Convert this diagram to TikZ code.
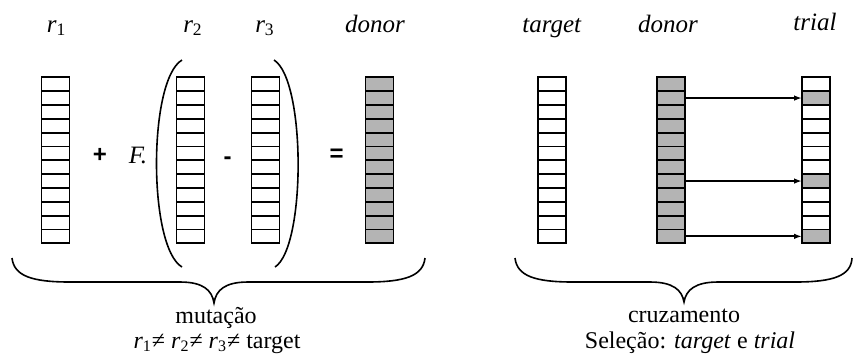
\documentclass[tikz,border=0pt]{standalone}
\usepackage{fontspec}
\setmainfont{Liberation Serif}
\setsansfont{Liberation Sans}
\usetikzlibrary{arrows.meta, positioning}
\definecolor{cellgray}{RGB}{180, 180, 180}
\tikzset{
  gene/.style={draw, line width=0.9pt, fill=#1, minimum width=14pt, minimum height=6.92pt, inner sep=0pt, outer sep=0pt},
  gene/.default=white,
  veclabel/.style={font=\rmfamily\itshape\fontsize{12.5}{15}\selectfont, anchor=base},
  oplabel/.style={font=\sffamily\bfseries\fontsize{12}{14}\selectfont},
  steplabel/.style={font=\rmfamily\fontsize{12}{14}\selectfont, anchor=base},
  crossarrow/.style={-{Latex[length=4pt, width=2.8pt]}, line width=0.9pt},
  bracket/.style={line width=0.8pt},
}

\begin{document}
\begin{tikzpicture}[x=0.5pt, y=-0.5pt]
\useasboundingbox (0,0) rectangle (854,361);

% vectors: 12 genes each
\foreach \vec/\xc/\col in {rA/55.5/white, rB/190.5/white, rC/265.5/white, donA/379.5/cellgray, targ/551.7/white, donB/670.7/cellgray}
  \foreach \i in {1,...,12}
    \node[gene=\col] (\vec-\i) at (\xc, {77.3+13.83*(\i-0.5)}) {};
\foreach \i/\col in {1/white, 2/cellgray, 3/white, 4/white, 5/white, 6/white, 7/white, 8/cellgray, 9/white, 10/white, 11/white, 12/cellgray}
  \node[gene=\col] (trial-\i) at (816, {77.3+13.83*(\i-0.5)}) {};

% labels on top
\node[veclabel] (labA) at (56.7,32) {r\textsubscript{\upshape 1}};
\node[veclabel] (labB) at (193,32) {r\textsubscript{\upshape 2}};
\node[veclabel] (labC) at (265,32) {r\textsubscript{\upshape 3}};
\node[veclabel] (labD) at (375,32) {donor};
\node[veclabel] (labT) at (551.7,32) {target};
\node[veclabel] (labE) at (668,32) {donor};
\node[veclabel] (labR) at (815,30) {trial};

% operators
\node[oplabel] (plus) at (100,155) {+};
\node[veclabel] (fac) at (138,163) {F.};
\node[oplabel] (minus) at (227.7,161) {-};
\node[oplabel] (equal) at (336.7,155) {=};

% parentheses
\draw[bracket] (182,60) .. controls (148,80) and (148,247) .. (182,267);
\draw[bracket] (274,60) .. controls (306,80) and (306,247) .. (275,267);

% braces
\draw[bracket] (12,258) .. controls (14,276) and (32,282) .. (70,282) -- (180,282)
  .. controls (203,282) and (212,290) .. (214,303)
  .. controls (216,290) and (225,282) .. (248,282) -- (367,282)
  .. controls (405,282) and (423,276) .. (425,258);
\draw[bracket] (515,258) .. controls (517,276) and (535,282) .. (573,282) -- (650,282)
  .. controls (673,282) and (682,290) .. (684,302)
  .. controls (686,290) and (695,282) .. (718,282) -- (795,282)
  .. controls (833,282) and (851,276) .. (852,258);

% crossover
\foreach \i in {2,8,12}
  \draw[crossarrow] (donB-\i.east) -- (trial-\i.west);

% captions
\node[steplabel] (mut) at (216,323) {mutação};
\node[steplabel] (cond) at (217,348) {\textit{r}\textsubscript{1}≠ \textit{r}\textsubscript{2}≠ \textit{r}\textsubscript{3}≠ target};
\node[steplabel] (cruz) at (684,322) {cruzamento};
\node[steplabel] (sel) at (690,348) {Seleção: \textit{target} e \textit{trial}};
\end{tikzpicture}
\end{document}
